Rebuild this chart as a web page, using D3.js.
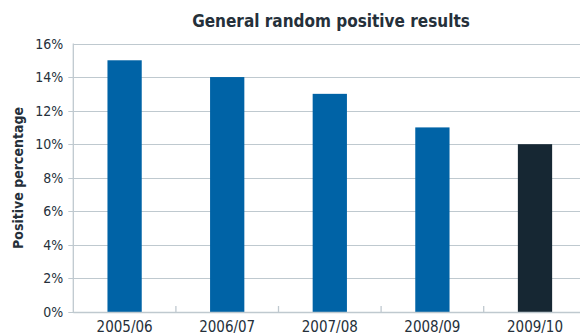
<!DOCTYPE html>
<html>
<head>
<meta charset="utf-8">
<script src="https://cdn.jsdelivr.net/npm/d3@7"></script>
<style>
  html, body { margin: 0; padding: 0; background: #fff; }
  svg { display: block; font-family: "Liberation Sans Narrow", "DejaVu Sans Condensed", "Roboto", sans-serif; }
</style>
</head>
<body>
<svg id="chart" width="580" height="336"></svg>
<script>
// Season labels and the share of random tests that came back positive
const seasons = ["2005/06", "2006/07", "2007/08", "2008/09", "2009/10"];
const positivePct = [15, 14, 13, 11, 10];
const yTicks = [0, 2, 4, 6, 8, 10, 12, 14, 16];
const titleText = "General random positive results";
const yLabelText = "Positive percentage";

const svg = d3.select("#chart");
const margin = { left: 73.3, top: 43.5, bottom: 312, right: 586.3 };

const x = d3.scaleBand()
  .domain(seasons)
  .range([margin.left, margin.right])
  .paddingInner(0.666)
  .paddingOuter(0.333);

const y = d3.scaleLinear()
  .domain([0, 16])
  .range([margin.bottom, margin.top]);

const gridColor = "#bfc9cf";
const textColor = "#25303a";

// Horizontal gridlines; all but the top one poke a little left of the axis as ticks
svg.append("g")
  .selectAll("line")
  .data(yTicks)
  .join("line")
  .attr("x1", d => d === 16 ? margin.left : margin.left - 5)
  .attr("x2", margin.right)
  .attr("y1", d => Math.round(y(d)) + 0.5)
  .attr("y2", d => Math.round(y(d)) + 0.5)
  .attr("stroke", gridColor)
  .attr("stroke-width", 1.2);

// Y tick labels
svg.append("g")
  .selectAll("text")
  .data(yTicks)
  .join("text")
  .attr("x", margin.left - 10)
  .attr("y", d => y(d))
  .attr("dy", "0.36em")
  .attr("text-anchor", "end")
  .attr("font-size", 14)
  .attr("fill", textColor)
  .text(d => d + "%");

// Bars; the latest season is highlighted in a dark tone
svg.append("g")
  .selectAll("rect")
  .data(seasons)
  .join("rect")
  .attr("x", d => x(d))
  .attr("width", x.bandwidth())
  .attr("y", (d, i) => y(positivePct[i]))
  .attr("height", (d, i) => y(0) - y(positivePct[i]))
  .attr("fill", (d, i) => i === seasons.length - 1 ? "#162733" : "#0063a6");

// Axis lines
svg.append("line")
  .attr("x1", margin.left).attr("x2", margin.left)
  .attr("y1", margin.top).attr("y2", margin.bottom + 1)
  .attr("stroke", gridColor).attr("stroke-width", 1.3);
svg.append("line")
  .attr("x1", margin.left).attr("x2", margin.right)
  .attr("y1", Math.round(y(0)) + 0.5).attr("y2", Math.round(y(0)) + 0.5)
  .attr("stroke", gridColor).attr("stroke-width", 1.5);

// Category separator ticks rising from the baseline
const step = x.step();
svg.append("g")
  .selectAll("line")
  .data(seasons.slice(1))
  .join("line")
  .attr("x1", d => x(d) - (step - x.bandwidth()) / 2)
  .attr("x2", d => x(d) - (step - x.bandwidth()) / 2)
  .attr("y1", y(0) - 6)
  .attr("y2", y(0))
  .attr("stroke", gridColor)
  .attr("stroke-width", 1.3);

// Category labels
svg.append("g")
  .selectAll("text")
  .data(seasons)
  .join("text")
  .attr("x", d => x(d) + x.bandwidth() / 2)
  .attr("y", 332)
  .attr("text-anchor", "middle")
  .attr("font-size", 15)
  .attr("fill", textColor)
  .text(d => d);

// Title
svg.append("text")
  .attr("x", 331)
  .attr("y", 27)
  .attr("text-anchor", "middle")
  .attr("font-size", 17)
  .attr("font-weight", "bold")
  .attr("fill", textColor)
  .text(titleText);

// Y axis title
svg.append("text")
  .attr("transform", "translate(23,178) rotate(-90)")
  .attr("text-anchor", "middle")
  .attr("font-size", 14)
  .attr("font-weight", "bold")
  .attr("fill", textColor)
  .text(yLabelText);
</script>
</body>
</html>
